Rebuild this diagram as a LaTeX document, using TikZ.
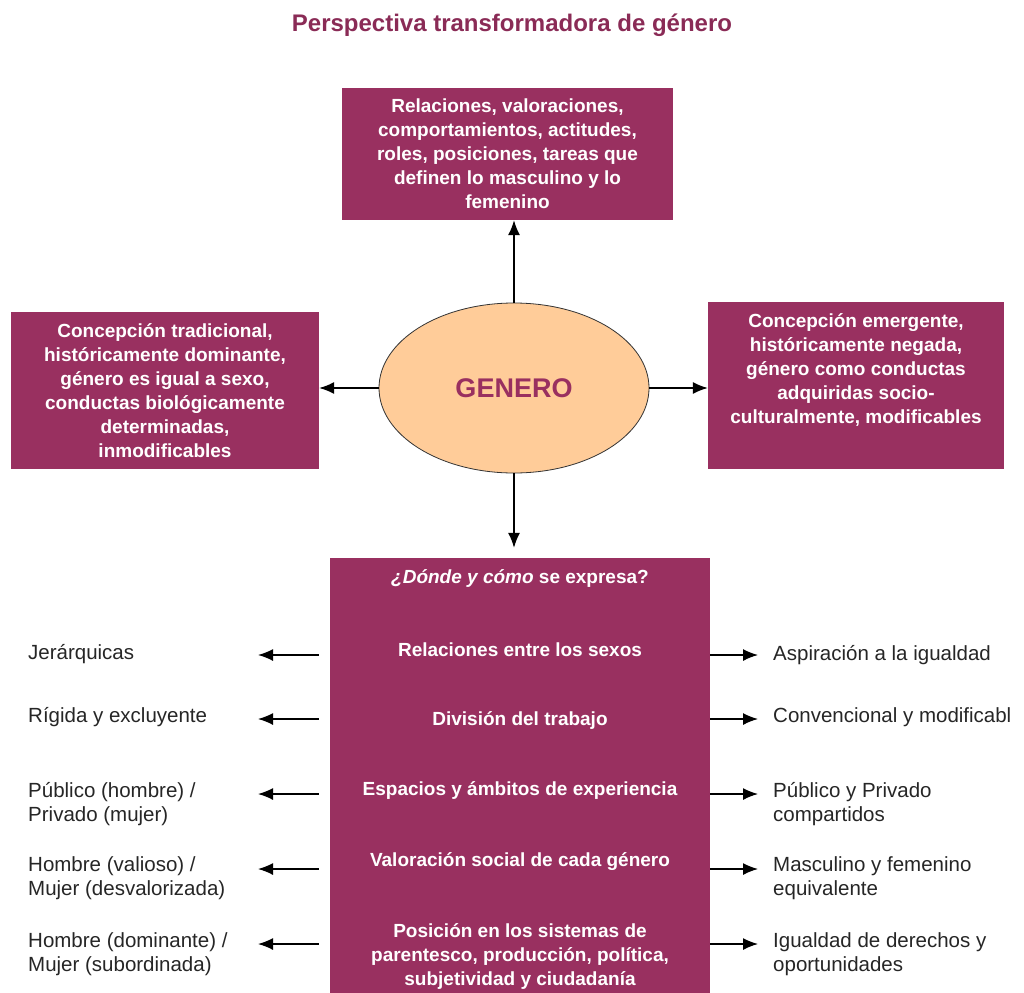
\documentclass[tikz,border=0pt]{standalone}
\usepackage{fontspec}
\setmainfont{Liberation Sans}
\usetikzlibrary{shapes.geometric,arrows.meta,positioning}
\definecolor{genpurple}{RGB}{153,48,96}
\definecolor{genpeach}{RGB}{255,204,153}
\tikzset{
  genbox/.style={fill=genpurple, draw=none, inner sep=0pt},
  boxtext/.style={text=white, font=\fontsize{19}{24}\selectfont\bfseries, align=center, inner sep=0pt},
  sidetext/.style={text=black!85, font=\fontsize{20.5}{24}\selectfont, align=left, anchor=west, inner sep=0pt},
  arr/.style={-{Latex[length=15pt,width=12pt]}, line width=1.4pt},
}
\begin{document}
\begin{tikzpicture}[x=1pt,y=-1pt]
    \useasboundingbox[fill=white] (0,0) rectangle (1024,992);
    \node[font=\fontsize{24}{28}\selectfont\bfseries, text=genpurple!90!black] (title) at (512,25)
      {Perspectiva transformadora de género};

    % cajas alrededor del genero
    \node[genbox, boxtext, minimum width=331pt, minimum height=132pt] (top) at (507.5,154)
      {Relaciones, valoraciones,\\ comportamientos, actitudes,\\ roles, posiciones, tareas que\\ definen lo masculino y lo\\ femenino};
    \node[genbox, boxtext, minimum width=308pt, minimum height=157pt] (trad) at (165,390.5)
      {Concepción tradicional,\\ históricamente dominante,\\ género es igual a sexo,\\ conductas biológicamente\\ determinadas,\\ inmodificables};
    \node[genbox, minimum width=296pt, minimum height=167pt] (emer) at (856,385.5) {};
    \node[boxtext] (emertext) at (856,370)
      {Concepción emergente,\\ históricamente negada,\\ género como conductas\\ adquiridas socio-\\ culturalmente, modificables};

    \node[ellipse, draw=black!80, line width=0.8pt, fill=genpeach, minimum width=270pt, minimum height=170pt,
      font=\fontsize{27}{30}\selectfont\bfseries, text=genpurple] (gen) at (514,388) {GENERO};

    % donde y como se expresa
    \node[genbox, minimum width=380pt, minimum height=442pt] (expr) at (520,779) {};
    \node[boxtext] (q) at (520,578) {\textit{¿Dónde y cómo} se expresa?};
    \node[boxtext] (r1) at (520,650) {Relaciones entre los sexos};
    \node[boxtext] (r2) at (520,720) {División del trabajo};
    \node[boxtext] (r3) at (520,790) {Espacios y ámbitos de experiencia};
    \node[boxtext] (r4) at (520,862) {Valoración social de cada género};
    \node[boxtext] (r5) at (520,956) {Posición en los sistemas de\\ parentesco, producción, política,\\ subjetividad y ciudadanía};

    \draw[arr] (gen.north) -- (gen.north |- top.south);
    \draw[arr] (gen.west) -- (gen.west -| trad.east);
    \draw[arr] (gen.east) -- (gen.east -| emer.west);
    \draw[arr, shorten >=10pt] (gen.south) -- (gen.south |- expr.north);

    \node[sidetext] (l1) at (28,654) {Jerárquicas};
    \node[sidetext] (l2) at (28,717) {Rígida y excluyente};
    \node[sidetext] (l3) at (28,804.5) {Público (hombre) /\\ Privado (mujer)};
    \node[sidetext] (l4) at (28,878.5) {Hombre (valioso) /\\ Mujer (desvalorizada)};
    \node[sidetext] (l5) at (28,954) {Hombre (dominante) /\\ Mujer (subordinada)};

    \node[sidetext] (e1) at (773,655) {Aspiración a la igualdad};
    \node[sidetext] (e2) at (773,717) {Convencional y modificabl};
    \node[sidetext] (e3) at (773,804.5) {Público y Privado\\ compartidos};
    \node[sidetext] (e4) at (773,878.5) {Masculino y femenino\\ equivalente};
    \node[sidetext] (e5) at (773,954) {Igualdad de derechos y\\ oportunidades};

    \foreach \n/\y in {1/655,2/719,3/794,4/869,5/944} {
      \coordinate (lt\n) at (258,\y);
      \coordinate (rt\n) at (758,\y);
      \draw[arr, shorten <=11pt] (expr.west |- lt\n) -- (lt\n);
      \draw[arr] (expr.east |- rt\n) -- (rt\n);
    }
  \end{tikzpicture}
\end{document}
